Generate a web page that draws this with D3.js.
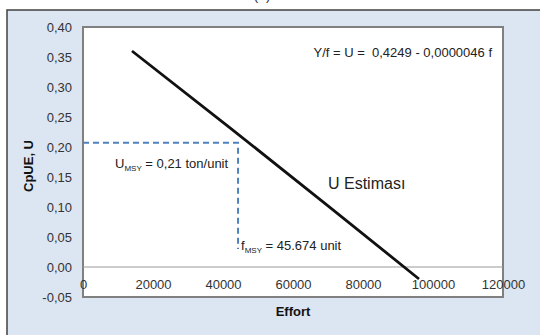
<!DOCTYPE html>
<html>
<head>
<meta charset="utf-8">
<script src="https://cdn.jsdelivr.net/npm/d3@7"></script>
<style>
  body { margin: 0; background: #fff; }
  svg { display: block; font-family: "Liberation Sans", Arial, sans-serif; }
</style>
</head>
<body>
<div id="chart"></div>
<script>
// dữ liệu
const effort = [14000, 42000, 70000, 96000];
const cpue = [0.36, 0.232, 0.102, -0.02];
const xTicks = [0, 20000, 40000, 60000, 80000, 100000, 120000];
const yTicks = [-0.05, 0, 0.05, 0.10, 0.15, 0.20, 0.25, 0.30, 0.35, 0.40];
const fMsy = 44300;   // vị trí đường đứt nét trên hình
const uMsy = 0.207;
const uMsyLow = 0.03;

const W = 540, H = 335;
const svg = d3.select("#chart").append("svg")
    .attr("width", W).attr("height", H);

// nền xanh nhạt của vùng biểu đồ
svg.append("rect")
    .attr("x", 7).attr("y", 10).attr("width", W).attr("height", H)
    .attr("fill", "#dce6f2").attr("stroke", "#404040").attr("stroke-width", 1.5);

// mẩu nhãn bị cắt phía trên (giống ảnh gốc)
svg.append("text")
    .attr("x", 262).attr("y", 0).attr("text-anchor", "middle")
    .style("font-size", "14px").attr("fill", "#333").text("(b)");

const x = d3.scaleLinear().domain([0, 120000]).range([83, 503]);
const y = d3.scaleLinear().domain([-0.05, 0.40]).range([297, 27]);

// vùng vẽ
svg.append("rect")
    .attr("x", x(0)).attr("y", y(0.40))
    .attr("width", x(120000) - x(0)).attr("height", y(-0.05) - y(0.40))
    .attr("fill", "#fff").attr("stroke", "#808080").attr("stroke-width", 2);

// đường y = 0
svg.append("line")
    .attr("x1", x(0)).attr("x2", x(120000))
    .attr("y1", y(0)).attr("y2", y(0))
    .attr("stroke", "#9a9a9a").attr("stroke-width", 1.2);

const fmt = d => d3.format(".2f")(d).replace(".", ",").replace("\u2212", "-");

// trục y
const gy = svg.append("g")
    .attr("transform", `translate(${x(0)},0)`)
    .call(d3.axisLeft(y).tickValues(yTicks).tickSize(0).tickPadding(11).tickFormat(fmt));
gy.select(".domain").remove();
gy.selectAll("text").style("font-size", "13px").attr("fill", "#333")
    .style("font-family", "'Liberation Sans', Arial, sans-serif");

// trục x (nhãn nằm dưới đường 0)
const gx = svg.append("g")
    .attr("transform", `translate(0,${y(0)})`)
    .call(d3.axisBottom(x).tickValues(xTicks).tickSize(0).tickPadding(13).tickFormat(d3.format("d")));
gx.select(".domain").remove();
gx.selectAll("text").style("font-size", "13px").attr("fill", "#333")
    .style("font-family", "'Liberation Sans', Arial, sans-serif");

// tiêu đề trục
svg.append("text")
    .attr("x", 293).attr("y", 316).attr("text-anchor", "middle")
    .style("font-size", "13px").style("font-weight", "bold").attr("fill", "#111")
    .text("Effort");
svg.append("text")
    .attr("transform", "translate(33,166) rotate(-90)").attr("text-anchor", "middle")
    .style("font-size", "13px").style("font-weight", "bold").attr("fill", "#111")
    .text("CpUE, U");

// đường đứt nét MSY
svg.append("path")
    .attr("d", `M${x(0)},${y(uMsy)}H${x(fMsy)}V${y(uMsyLow)}`)
    .attr("fill", "none").attr("stroke", "#4f81bd").attr("stroke-width", 2)
    .attr("stroke-dasharray", "6,4");

// đường U ước lượng
const pts = effort.map((e, i) => [e, cpue[i]]);
svg.append("path")
    .datum(pts)
    .attr("d", d3.line().x(d => x(d[0])).y(d => y(d[1])))
    .attr("fill", "none").attr("stroke", "#111").attr("stroke-width", 2.8);

// chú thích
svg.append("text")
    .attr("x", 492).attr("y", 57).attr("text-anchor", "end")
    .style("font-size", "13px").style("white-space", "pre").attr("fill", "#222")
    .text("Y/f = U =  0,4249 - 0,0000046 f");

svg.append("text")
    .attr("x", 328).attr("y", 189)
    .style("font-size", "16px").attr("fill", "#222")
    .text("U Estiması");

const t1 = svg.append("text").attr("x", 115).attr("y", 168)
    .style("font-size", "13px").attr("fill", "#222");
t1.append("tspan").text("U");
t1.append("tspan").attr("dy", 3).style("font-size", "8px").text("MSY");
t1.append("tspan").attr("dy", -3).text(" = 0,21 ton/unit");

const t2 = svg.append("text").attr("x", 241).attr("y", 250)
    .style("font-size", "13px").attr("fill", "#222");
t2.append("tspan").text("f");
t2.append("tspan").attr("dy", 3).style("font-size", "8px").text("MSY");
t2.append("tspan").attr("dy", -3).text(" = 45.674 unit");
</script>
</body>
</html>
